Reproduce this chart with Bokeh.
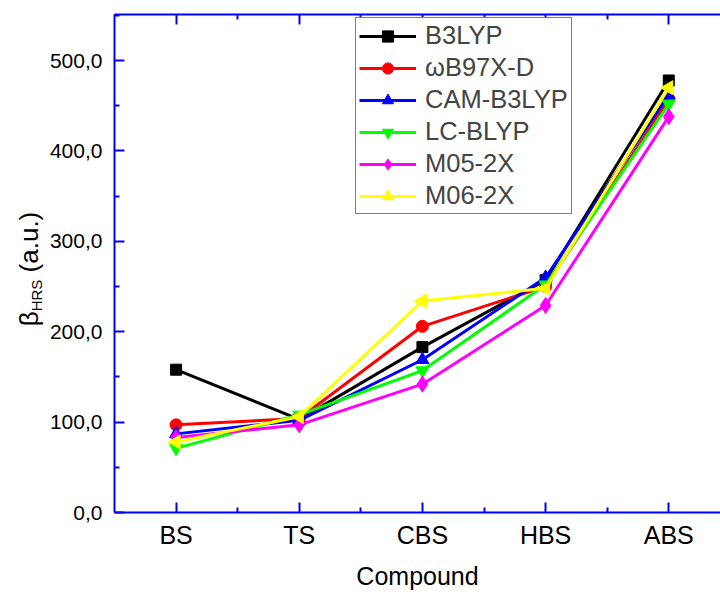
import math
from bokeh.plotting import figure
from bokeh.models import (Range1d, FixedTicker, LinearAxis, Legend, LegendItem, Div)
from bokeh.layouts import row
from bokeh.embed import file_html
from bokeh.resources import INLINE

# ---- data ----
compounds = ["BS", "TS", "CBS", "HBS", "ABS"]
x_pos = [1, 2, 3, 4, 5]
b3lyp = [158, 103, 183, 257, 478]
wb97xd = [97, 104, 206, 250, 457]
cam_b3lyp = [87, 102, 169, 260, 462]
lc_blyp = [71, 108, 157, 252, 452]
m05_2x = [83, 97, 142, 229, 438]
m06_2x = [78, 106, 234, 248, 470]
y_ticks = [0, 100, 200, 300, 400, 500]
y_tick_labels = ["0,0", "100,0", "200,0", "300,0", "400,0", "500,0"]

series = [
    ("B3LYP", b3lyp, "#000000", "square", 0.0, 11),
    ("ωB97X-D", wb97xd, "#FF0000", "circle", 0.0, 12),
    ("CAM-B3LYP", cam_b3lyp, "#0000FF", "triangle", 0.0, 13),
    ("LC-BLYP", lc_blyp, "#00FF00", "inverted_triangle", 0.0, 13),
    ("M05-2X", m05_2x, "#FF00FF", "diamond", 0.0, 16),
    ("M06-2X", m06_2x, "#FFFF00", "triangle", math.pi / 2, 14),
]

FONT = "Liberation Sans"
AXC = "#0000FF"
LEFT_W = 46
FIG_W = 674

p = figure(width=FIG_W, height=592, output_backend="svg", toolbar_location=None,
           x_range=Range1d(0.5, 5.42), y_range=Range1d(0, 551),
           min_border_left=64, min_border_right=0, min_border_top=14,
           min_border_bottom=76, outline_line_color=None, margin=0)
p.grid.visible = False
p.background_fill_color = "white"
p.border_fill_color = "white"

# x axis
xa = p.xaxis[0]
xa.ticker = FixedTicker(ticks=x_pos, minor_ticks=[1.5, 2.5, 3.5, 4.5, 5.5])
xa.major_label_overrides = {i: c for i, c in zip(x_pos, compounds)}
xa.axis_label = "Compound"
ya = p.yaxis[0]
ya.ticker = FixedTicker(ticks=y_ticks, minor_ticks=[50, 150, 250, 350, 450, 550])
ya.major_label_overrides = {v: t for v, t in zip(y_ticks, y_tick_labels)}

for ax in (xa, ya):
    ax.axis_line_color = AXC
    ax.axis_line_width = 2
    ax.major_tick_line_color = AXC
    ax.minor_tick_line_color = AXC
    ax.major_tick_line_width = 2
    ax.minor_tick_line_width = 2
    ax.major_tick_in = 10
    ax.major_tick_out = 0
    ax.minor_tick_in = 5
    ax.minor_tick_out = 0
    ax.major_label_text_font = FONT
    ax.major_label_text_color = "#000000"
    ax.axis_label_text_font = FONT
    ax.axis_label_text_font_style = "normal"
    ax.axis_label_text_color = "#000000"

xa.major_label_text_font_size = "25px"
xa.major_label_standoff = 8
xa.axis_label_text_font_size = "25px"
xa.axis_label_standoff = 10
ya.major_label_text_font_size = "21px"
ya.major_label_standoff = 12

top = LinearAxis(ticker=FixedTicker(ticks=x_pos, minor_ticks=[1.5, 2.5, 3.5, 4.5, 5.5]),
                 major_label_overrides={i: "" for i in x_pos},
                 axis_line_color=AXC, axis_line_width=2,
                 major_tick_line_color=AXC, minor_tick_line_color=AXC,
                 major_tick_line_width=2, minor_tick_line_width=2,
                 major_tick_in=10, major_tick_out=0, minor_tick_in=5, minor_tick_out=0,
                 major_label_standoff=0)
p.add_layout(top, "above")

items = []
for name, ys, col, mk, ang, sz in series:
    r1 = p.line(x_pos, ys, line_color=col, line_width=3)
    r2 = p.scatter(x_pos, ys, marker=mk, angle=ang, size=sz, fill_color=col, line_color=col)
    items.append(LegendItem(label=name, renderers=[r1, r2]))

legend = Legend(items=items, location=(241, 298), border_line_color="#000000",
                border_line_width=1.5, background_fill_color="white", background_fill_alpha=1,
                label_text_font=FONT, label_text_font_size="25.5px", glyph_width=57,
                glyph_height=28, label_height=28, spacing=3, padding=3, margin=0,
                label_standoff=9)
p.add_layout(legend, "center")

# y-axis title with subscript, in a narrow column to the left of the figure
ylabel_html = (
    f'<div style="position:relative; width:{LEFT_W}px; height:592px; background:white;">'
    '<span style="position:absolute; left:30px; top:269px; '
    'transform: translate(-50%, -50%) rotate(-90deg); white-space:nowrap; '
    f"font-family:'{FONT}'; font-size:26px; color:#000000; line-height:1;\">"
    'β<sub style="font-size:15px; vertical-align:-4px;">HRS</sub> (a.u.)</span></div>'
)
ylab = Div(text=ylabel_html, width=LEFT_W, height=592, margin=0)

layout = row(ylab, p, spacing=0, margin=0)
open("out.html", "w").write(file_html(layout, INLINE))
